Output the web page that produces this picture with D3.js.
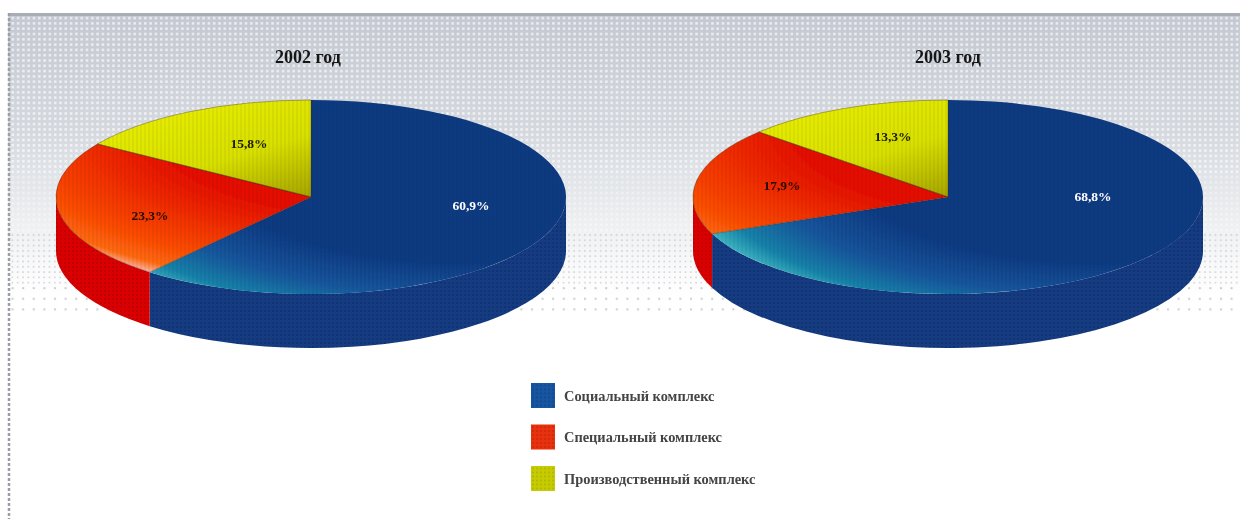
<!DOCTYPE html>
<html>
<head>
<meta charset="utf-8">
<style>
  html, body { margin: 0; padding: 0; background: #fff; }
  svg { display: block; }
  text { font-family: "Liberation Serif", serif; }
</style>
<script src="https://cdn.jsdelivr.net/npm/d3@7/dist/d3.min.js"></script>
</head>
<body>
<svg id="chart" width="1240" height="519"></svg>
<script>
var categories = ['Социальный комплекс', 'Специальный комплекс', 'Производственный комплекс'];
var years = ['2002 год', '2003 год'];
var values2002 = [60.9, 23.3, 15.8];
var values2003 = [68.8, 17.9, 13.3];
var labels2002 = ['60,9%', '23,3%', '15,8%'];
var labels2003 = ['68,8%', '17,9%', '13,3%'];

// раскладка
var W = 1240, H = 519;
var RX = 255, RY = 97, DEPTH = 54, CY = 197;
var centers = d3.scalePoint().domain(years).range([311, 948]);
var legendY = d3.scalePoint().domain(categories).range([395.5, 478.5]);
var sideColors = d3.scaleOrdinal().domain(categories).range(['#123a80', '#d80606', '#a8a800']);
var labelColors = d3.scaleOrdinal().domain(categories).range(['#ffffff', '#2a0c00', '#1c1c00']);
// смещение подписей от центра диаграммы
var labelOffsets = [
  [[160, 8], [-161, 18], [-62, -54]],
  [[145, -1], [-166, -12], [-55, -61]]
];

var svg = d3.select('#chart');
var defs = svg.append('defs');

function stops(id, el, list) {
  el.attr('id', id);
  list.forEach(function (s) { el.append('stop').attr('offset', s[0]).attr('stop-color', s[1]); });
}

stops('bg', defs.append('linearGradient').attr('x1', 0).attr('x2', 0).attr('y1', 0).attr('y2', 1), [
  [0, '#c3c8d2'], [0.4, '#d4d8de'], [0.72, '#eceef0'], [0.9, '#fafafb'], [1, '#ffffff']
]);

function dotPattern(id, step, size, color, op) {
  var p = defs.append('pattern').attr('id', id).attr('patternUnits', 'userSpaceOnUse')
    .attr('width', step).attr('height', step);
  p.append('rect').attr('x', 1).attr('y', 1).attr('width', size).attr('height', size)
    .attr('fill', color).attr('opacity', op);
}
dotPattern('dots', 5.3, 2.4, '#fff', 0.7);
dotPattern('softDots', 5.3, 2.4, '#fff', 0.4);
dotPattern('grayDots', 5.3, 1.6, '#aeb3bb', 0.55);
dotPattern('sparseDots', 10.6, 2, '#b4b8c0', 0.7);
dotPattern('pieDots', 4, 2, '#000', 0.09);

var blur = defs.append('filter').attr('id', 'soft').attr('x', '-5%').attr('y', '-5%').attr('width', '110%').attr('height', '110%');
blur.append('feGaussianBlur').attr('stdDeviation', 0.75);

// градиенты верхних секторов, координаты внутри круга до сжатия по вертикали
stops('gblue', defs.append('radialGradient').attr('gradientUnits', 'userSpaceOnUse')
  .attr('cx', RX * 0.6).attr('cy', -RX * 0.3).attr('r', RX * 1.68), [
  [0, '#113a82'], [0.58, '#113a82'], [0.78, '#13569d'], [0.92, '#1682aa'], [1, '#3fb8c2']
]);
stops('gred', defs.append('radialGradient').attr('gradientUnits', 'userSpaceOnUse')
  .attr('cx', RX * 0.3).attr('cy', -RX * 0.7).attr('r', RX * 1.74), [
  [0, '#e20a00'], [0.5, '#e40c00'], [0.84, '#fb4a00'], [0.95, '#ff6a10'], [1, '#ffb0a0']
]);
stops('gyellow', defs.append('linearGradient').attr('gradientUnits', 'userSpaceOnUse')
  .attr('x1', -RX * 0.7).attr('y1', -RX * 0.9).attr('x2', 0).attr('y2', 0), [
  [0, '#e8ee00'], [0.55, '#d8e000'], [1, '#a6a400']
]);
var topFills = d3.scaleOrdinal().domain(categories).range(['url(#gblue)', 'url(#gred)', 'url(#gyellow)']);

// фон
var scene = svg.append('g').attr('filter', 'url(#soft)');
scene.append('rect').attr('x', 8).attr('y', 13).attr('width', W - 8).attr('height', 285).attr('fill', 'url(#bg)');
scene.append('rect').attr('x', 8).attr('y', 13).attr('width', W - 8).attr('height', 3).attr('fill', '#a9adb5');
scene.append('rect').attr('x', 8).attr('y', 16).attr('width', W - 8).attr('height', 160).attr('fill', 'url(#dots)');
scene.append('rect').attr('x', 8).attr('y', 176).attr('width', W - 8).attr('height', 58).attr('fill', 'url(#softDots)');
scene.append('rect').attr('x', 8).attr('y', 234).attr('width', W - 8).attr('height', 51).attr('fill', 'url(#grayDots)');
scene.append('rect').attr('x', 8).attr('y', 285).attr('width', W - 8).attr('height', 28).attr('fill', 'url(#sparseDots)');
scene.append('line').attr('x1', 9).attr('x2', 9).attr('y1', 13).attr('y2', H)
  .attr('stroke', '#9a9fa6').attr('stroke-width', 2.5).attr('stroke-dasharray', '3 2');

var pieGen = d3.pie().sort(null).value(function (d) { return d; });
var arcGen = d3.arc().innerRadius(0).outerRadius(RX);
var squash = RY / RX;

function px(a) { return Math.sin(a) * RX; }
function py(a) { return -Math.cos(a) * RY; }

// боковая стенка сектора, видна только передняя половина эллипса
function wallPath(a0, a1) {
  var s = Math.max(a0, Math.PI / 2), e = Math.min(a1, Math.PI * 1.5);
  if (s >= e) return null;
  var large = e - s > Math.PI ? 1 : 0;
  return 'M' + px(s) + ',' + py(s) +
    'A' + RX + ',' + RY + ' 0 ' + large + ' 1 ' + px(e) + ',' + py(e) +
    'L' + px(e) + ',' + (py(e) + DEPTH) +
    'A' + RX + ',' + RY + ' 0 ' + large + ' 0 ' + px(s) + ',' + (py(s) + DEPTH) + 'Z';
}

function drawPie(year, values, labels, offsets) {
  var slices = pieGen(values);
  slices.forEach(function (d, i) { d.cat = categories[i]; d.label = labels[i]; d.off = offsets[i]; });
  var g = scene.append('g').attr('transform', 'translate(' + centers(year) + ',' + CY + ')');

  var walls = slices.filter(function (d) { return wallPath(d.startAngle, d.endAngle); });
  g.selectAll('path.wall').data(walls).enter().append('path').attr('class', 'wall')
    .attr('d', function (d) { return wallPath(d.startAngle, d.endAngle); })
    .attr('fill', function (d) { return sideColors(d.cat); });

  var flat = g.append('g').attr('transform', 'scale(1,' + squash + ')');
  flat.selectAll('path.top').data(slices).enter().append('path').attr('class', 'top')
    .attr('d', arcGen)
    .attr('fill', function (d) { return topFills(d.cat); });
  flat.selectAll('path.sep').data(slices.slice(1)).enter().append('path').attr('class', 'sep')
    .attr('d', arcGen).attr('fill', 'none').attr('stroke', '#3a1c00').attr('stroke-opacity', 0.5);

  // растр поверх диаграммы
  flat.append('ellipse').attr('rx', RX).attr('ry', RX).attr('fill', 'url(#pieDots)');
  g.selectAll('path.wallDots').data(walls).enter().append('path').attr('class', 'wallDots')
    .attr('d', function (d) { return wallPath(d.startAngle, d.endAngle); })
    .attr('fill', 'url(#pieDots)');

  g.selectAll('text.val').data(slices).enter().append('text').attr('class', 'val')
    .attr('x', function (d) { return d.off[0]; })
    .attr('y', function (d) { return d.off[1]; })
    .attr('dy', '.35em').attr('text-anchor', 'middle')
    .attr('font-size', 13.5).attr('font-weight', 'bold')
    .attr('fill', function (d) { return labelColors(d.cat); })
    .text(function (d) { return d.label; });

  scene.append('text').attr('x', centers(year) - (year === years[0] ? 3 : 0)).attr('y', 57).attr('dy', '.35em')
    .attr('text-anchor', 'middle').attr('font-size', 18).attr('font-weight', 'bold').attr('fill', '#141414')
    .text(year);
}

drawPie(years[0], values2002, labels2002, labelOffsets[0]);
drawPie(years[1], values2003, labels2003, labelOffsets[1]);

// легенда
var swatchFills = d3.scaleOrdinal().domain(categories).range(['#15549f', '#e8300a', '#c6cc00']);
var legend = scene.selectAll('g.legend').data(categories).enter().append('g').attr('class', 'legend')
  .attr('transform', function (d) { return 'translate(531,' + legendY(d) + ')'; });
legend.append('rect').attr('y', -12.5).attr('width', 24).attr('height', 25)
  .attr('fill', function (d) { return swatchFills(d); });
legend.append('rect').attr('y', -12.5).attr('width', 24).attr('height', 25).attr('fill', 'url(#pieDots)');
legend.append('text').attr('x', 33).attr('dy', '.35em').attr('font-size', 14.4).attr('font-weight', 'bold')
  .attr('fill', '#444').text(function (d) { return d; });
</script>
</body>
</html>
